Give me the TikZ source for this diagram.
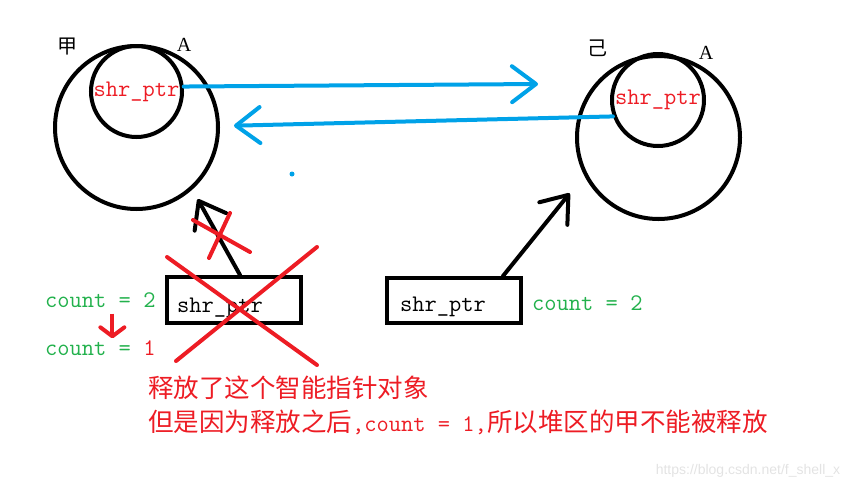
\documentclass[tikz,border=0pt]{standalone}
\usepackage{fontspec}
\newfontfamily\cjk{Noto Sans CJK SC}
\newfontfamily\letterfont{Liberation Serif}
\newfontfamily\markfont{Liberation Sans}
\usepackage{xcolor}
\usepackage{tikz}
\usetikzlibrary{positioning, arrows.meta}

\definecolor{paintblue}{RGB}{0,162,232}
\definecolor{paintred}{RGB}{237,28,36}
\definecolor{paintgreen}{RGB}{34,177,76}
\newcommand{\codefont}{\ttfamily\fontsize{23.8}{26}\selectfont}
\newcommand{\hanfont}{\cjk\fontsize{25.5}{28}\selectfont}

\begin{document}
\begin{tikzpicture}[
    x=1pt, y=-1pt,
    ring/.style={circle, draw, line width=4pt, inner sep=0pt},
    ptrbox/.style={rectangle, draw, line width=4pt, minimum width=134pt, minimum height=46pt, inner sep=0pt},
    code/.style={font=\codefont, inner sep=0pt},
    tag/.style={font=\cjk\fontsize{20}{22}\selectfont, inner sep=0pt},
    letter/.style={font=\letterfont\fontsize{20}{22}\selectfont, inner sep=0pt},
    arr/.style={-{Straight Barb[round, length=24pt, width=36pt]}, line width=4pt, line cap=round},
    blue arr/.style={arr, paintblue},
    cross/.style={paintred, line width=4pt, line cap=round}
]
\useasboundingbox (0,0) rectangle (862,488);

% two heap objects
\node[ring, minimum size=163pt] (jiaHeap) at (136.5,127.5) {};
\node[ring, minimum size=91pt, code, text=paintred] (jiaPtr) at (136.5,91.5) {shr\_ptr};
\node[ring, minimum size=163pt] (yiHeap) at (658.5,137.5) {};
\node[ring, minimum size=92pt, code, text=paintred] (yiPtr) at (658,100) {shr\_ptr};

\node[tag] (jiaName) at (67,47) {甲};
\node[tag] (yiName) at (597,48) {己};
\node[letter] (jiaA) at (184,45) {A};
\node[letter] (yiA) at (706,53) {A};

% cycle between the two inner pointers
\coordinate (yiTip) at (538,84);
\draw[blue arr] (jiaPtr.6) -- (yiTip);
\draw[blue arr, shorten >=14pt] (yiPtr.200) -- (jiaHeap.1);
\node[circle, fill=paintblue, minimum size=5pt, inner sep=0pt] (dot) at (292,174) {};

% stack pointers
\node[ptrbox] (jiaBox) at (234,300) {};
\node[code, anchor=west] (jiaBoxText) at (177,308) {shr\_ptr};
\node[ptrbox, minimum height=45pt] (yiBox) at (454,300.5) {};
\node[code, anchor=west] (yiBoxText) at (400,307) {shr\_ptr};

\draw[arr, shorten >=11pt] ([xshift=6pt]jiaBox.north) -- (jiaHeap.-48);
\draw[arr, shorten >=23pt] ([xshift=49pt]yiBox.north) -- (yiHeap.-153);

\node[code, anchor=west, text=paintgreen] (countTop) at (45,300) {count = 2};
\node[code, anchor=west, text=paintgreen] (countLow) at (45,348) {count = \textcolor{paintred}{1}};
\node[code, anchor=west, text=paintgreen] (countRight) at (532,303) {count = 2};
\draw[paintred, line width=4pt, -{Straight Barb[round, length=9pt, width=24pt]}, shorten <=6pt, shorten >=2pt]
    ([xshift=12pt]countTop.south) -- ([xshift=12pt]countLow.north);

% released pointer
\draw[cross] (193,220) -- (250,252);
\draw[cross] (230,213) -- (209,258);
\draw[cross] (167,257) -- (317,365);
\draw[cross] (317,247) -- (176,361);

\node[anchor=west, inner sep=0pt, text=paintred, font=\hanfont] (noteOne) at (148,388) {释放了这个智能指针对象};
\node[anchor=west, inner sep=0pt, text=paintred, font=\hanfont] (noteTwo) at (148,422)
    {但是因为释放之后{\codefont,count = 1,}所以堆区的甲不能被释放};

\node[font=\markfont\fontsize{14}{16}\selectfont, text=black!11, inner sep=0pt] (mark) at (748,471) {https://blog.csdn.net/f\_shell\_x};
\end{tikzpicture}
\end{document}
